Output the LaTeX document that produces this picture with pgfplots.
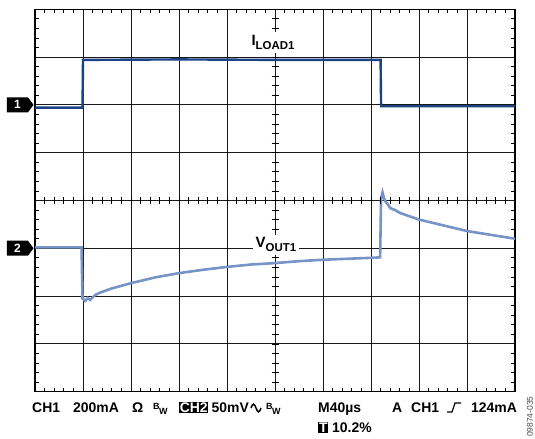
\documentclass[border=0pt]{standalone}
\usepackage{fontspec}
\setmainfont{Liberation Sans}
\usepackage{pgfplots}
\pgfplotsset{compat=1.18}
\definecolor{chone}{HTML}{1C4286}
\definecolor{chtwo}{HTML}{7893C6}
\begin{document}
\begin{tikzpicture}
\useasboundingbox (-35bp,-47.3bp) rectangle (500bp,391.7bp);
\begin{axis}[at={(0,0)}, anchor=south west, scale only axis,
  width=480bp, height=382.5bp,
  xmin=0, xmax=10, ymin=-4, ymax=4,
  xtick={0,...,10}, ytick={-4,...,4},
  minor x tick num=4, minor y tick num=4,
  xticklabels={}, yticklabels={},
  major tick length=0pt, minor tick length=4bp, tick align=inside,
  minor tick style={black, line width=0.7bp},
  grid=major, major grid style={black!90, line width=1bp},
  axis line style={black, line width=1.4bp},
  clip=false]
\addplot[chone, line width=2.4bp] coordinates {
(0,1.94) (0.99,1.94) (1.0,2.94) (3,2.95) (5,2.94) (7.2,2.94) (7.21,1.97) (10,1.97)};
\addplot[chtwo, line width=2.6bp] coordinates {
(0,-0.98) (0.97,-0.98) (0.99,-2.05) (1.05,-2.1) (1.1,-2.04) (1.15,-2.08) (1.25,-1.98) (1.35,-1.93) (1.6,-1.84) (2.0,-1.73) (2.5,-1.61) (3.0,-1.52) (3.5,-1.45) (4.0,-1.39) (4.5,-1.34) (5.0,-1.31) (5.5,-1.27) (6.0,-1.24) (6.5,-1.22) (7.0,-1.2) (7.19,-1.19) (7.21,0.05) (7.24,0.17) (7.27,0.05) (7.3,-0.02) (7.35,-0.08) (7.4,-0.16) (7.5,-0.2) (7.6,-0.26) (7.8,-0.33) (8.0,-0.4) (8.5,-0.52) (9.0,-0.64) (9.5,-0.72) (10,-0.8)};
\end{axis}
% centre cross ticks
\foreach \i in {1,...,49} \draw[black, line width=0.7bp] (\i*9.6bp,187.75bp) -- ++(0,7bp);
\foreach \j in {1,...,39} \draw[black, line width=0.7bp] (236.5bp,\j*9.5625bp) -- ++(7bp,0);
% channel markers
\fill[black] (-1.5bp,286.85bp) -- ++(-5.5bp,7.5bp) -- ++(-21bp,0) -- ++(0,-15bp) -- ++(21bp,0) -- cycle;
\node[text=white, font=\bfseries\fontsize{12}{14}\selectfont] at (-17.5bp,286.85bp) {1};
\fill[black] (-1.5bp,143.45bp) -- ++(-5.5bp,7.5bp) -- ++(-21bp,0) -- ++(0,-15bp) -- ++(21bp,0) -- cycle;
\node[text=white, font=\bfseries\fontsize{12}{14}\selectfont] at (-17.5bp,143.45bp) {2};
% trace labels
\node[fill=white, inner sep=3bp, font=\bfseries\fontsize{15}{17}\selectfont] at (238bp,349bp) {I\raisebox{-4bp}{\fontsize{11.5}{13}\selectfont LOAD1}};
\node[fill=white, inner sep=3bp, font=\bfseries\fontsize{15}{17}\selectfont] at (241bp,147bp) {V\raisebox{-4bp}{\fontsize{11.5}{13}\selectfont OUT1}};
% bottom readout
\begin{scope}[every node/.style={anchor=base west, inner sep=0pt, font=\bfseries\fontsize{14}{16}\selectfont}]
\node at (-3bp,-20.3bp) {CH1};
\node at (38bp,-20.3bp) {200mA};
\node at (97bp,-20.3bp) {Ω};
\node[font=\bfseries\fontsize{9}{10}\selectfont] at (118bp,-17.8bp) {B};
\node[font=\bfseries\fontsize{9}{10}\selectfont] at (124bp,-22.3bp) {W};
\node[fill=black, text=white, inner sep=0.6bp] at (144bp,-20.3bp) {CH2};
\node at (176.5bp,-20.3bp) {50mV};
\node[font=\bfseries\fontsize{9}{10}\selectfont] at (231bp,-17.8bp) {B};
\node[font=\bfseries\fontsize{9}{10}\selectfont] at (237bp,-22.3bp) {W};
\node at (283bp,-20.3bp) {M40µs};
\node at (357bp,-20.3bp) {A};
\node at (376bp,-20.3bp) {CH1};
\node at (436bp,-20.3bp) {124mA};
\node[fill=black, text=white, inner sep=0.8bp] at (283bp,-40.3bp) {T};
\node at (297bp,-40.3bp) {10.2\%};
\end{scope}
\draw[line width=1.5bp] (216bp,-16.3bp) sin (218.5bp,-12.4bp) cos (221bp,-16.3bp) sin (223.5bp,-20.2bp) cos (226bp,-16.3bp);
\draw[line width=1.2bp] (412bp,-20.3bp) -- (417bp,-20.3bp) -- (420bp,-11.3bp) -- (426bp,-11.3bp);
\node[rotate=90, text=black!70, font=\fontsize{8.5}{9}\selectfont, inner sep=0pt] at (495bp,-25bp) {09874-035};
\end{tikzpicture}
\end{document}
